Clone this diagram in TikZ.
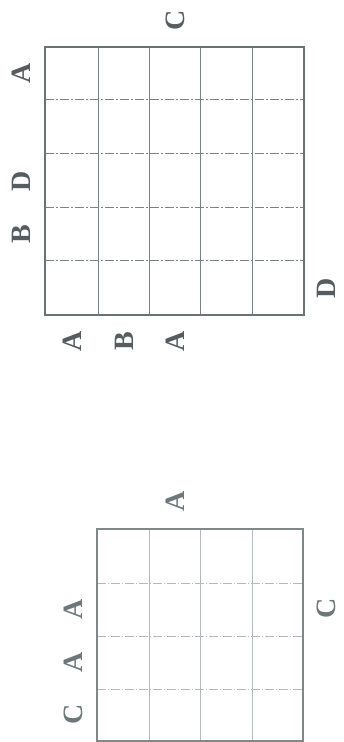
\documentclass[tikz,border=0pt]{standalone}
\usepackage{fontspec}
\setmainfont{Liberation Serif}
\definecolor{labgray}{HTML}{555D60}
\definecolor{labgraylight}{HTML}{6E777A}
\definecolor{borderdark}{HTML}{6A7274}
\definecolor{innerdark}{HTML}{7A8284}
\definecolor{borderlight}{HTML}{80888A}
\definecolor{innerlight}{HTML}{B4BABC}
\begin{document}
\begin{tikzpicture}[x=1pt,y=1pt,
  lab/.style={font=\fontsize{28}{28}\selectfont\bfseries, text=labgray, rotate=90, inner sep=0pt, text height=19pt, text depth=0pt, anchor=center},
  lablight/.style={lab, text=labgraylight},
  topborder/.style={draw=borderdark, line width=2.2pt},
  topvert/.style={draw=innerdark, line width=0.9pt},
  tophoriz/.style={draw=innerdark, line width=1pt, dash pattern=on 9pt off 2pt on 2pt off 2pt},
  botborder/.style={draw=borderlight, line width=1.8pt},
  botvert/.style={draw=innerlight, line width=0.8pt},
  bothoriz/.style={draw=innerlight, line width=0.8pt, dash pattern=on 9pt off 2pt on 1pt off 2pt}]
\useasboundingbox (0,0) rectangle (343,742);
\fill[white] (0,0) rectangle (343,742);

% ---- top grid (5 x 5) ----
\foreach \x in {98,149,200,252} \draw[topvert] (\x,427) -- (\x,695);
\foreach \y in {642,588,534,481} \draw[tophoriz] (45,\y) -- (304,\y);
\draw[topborder] (45,427) rectangle (304,695);

\node[lab] (tC)  at (175,722) {C};
\node[lab] (tLA) at (21,669) {A};
\node[lab] (tLD) at (21,561) {D};
\node[lab] (tLB) at (21,508) {B};
\node[lab] (tRD) at (326,454) {D};
\node[lab] (tBA1) at (72,401) {A};
\node[lab] (tBB)  at (124,401) {B};
\node[lab] (tBA2) at (175,401) {A};

% ---- bottom grid (4 x 4) ----
\foreach \x in {149,200,252} \draw[botvert] (\x,1) -- (\x,213);
\foreach \y in {159,106,53} \draw[bothoriz] (97,\y) -- (303,\y);
\draw[botborder] (97,1) rectangle (303,213);

\node[lablight] (bA)  at (175,241) {A};
\node[lablight] (bLA1) at (73,133) {A};
\node[lablight] (bLA2) at (73,80) {A};
\node[lablight] (bLC) at (73,28) {C};
\node[lablight] (bRC) at (326,134) {C};
\end{tikzpicture}
\end{document}
